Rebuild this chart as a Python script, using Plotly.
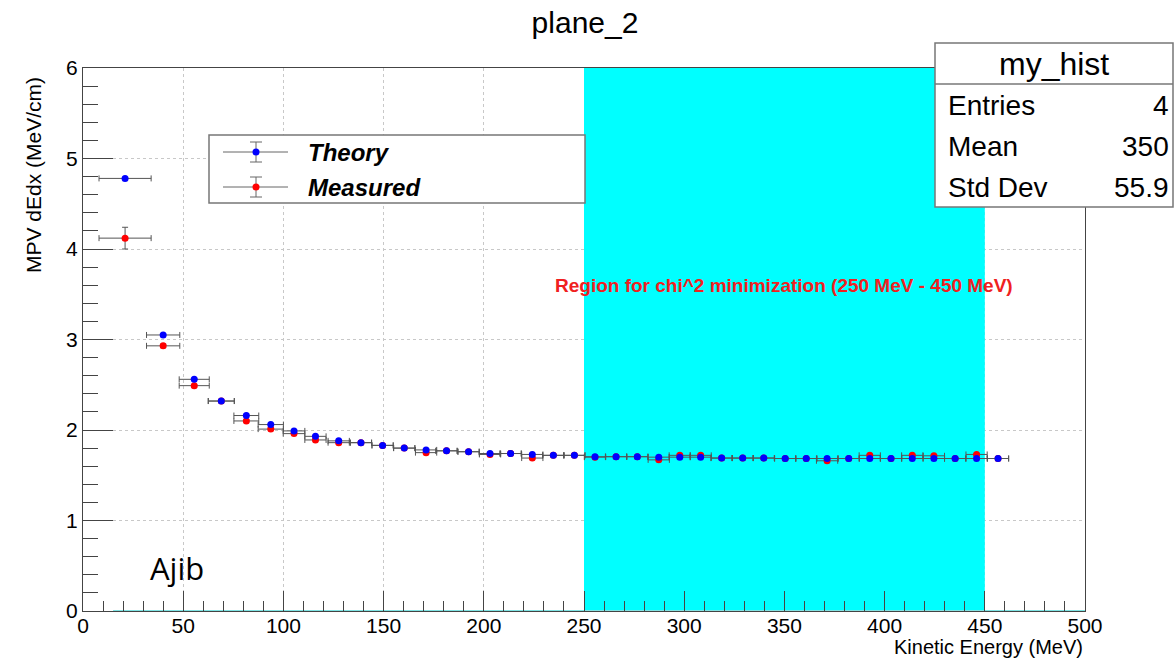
import plotly.graph_objects as go

# ---------------- data ----------------
x_centers = [21, 40, 55.5, 69, 81.5, 93.7, 105.3, 116, 127.6, 138.7, 149.5, 160.3,
             171.2, 181.4, 192.4, 203.1, 213.4, 224.2, 234.7, 245.2, 255.5, 266,
             276.6, 287.3, 297.8, 308.2, 318.7, 329.2, 339.7, 350.4, 360.9, 371.3,
             382.1, 392.6, 403.2, 413.8, 424.6, 435.2, 445.9, 456.6]
x_halfwidth = [13, 8.3, 7.5, 6.5, 6.2, 6.3, 5.4, 5.3, 5.3, 5.3, 5.3, 5.3,
               5.3, 5.3, 5.3, 5.3, 5.3, 5.3, 5.3, 5.3, 5.3, 5.3,
               5.3, 5.3, 5.3, 5.3, 5.3, 5.3, 5.3, 5.3, 5.3, 5.3,
               5.3, 5.3, 5.3, 5.3, 5.3, 5.3, 5.3, 5.3]
theory = [4.78, 3.05, 2.56, 2.32, 2.16, 2.06, 1.99, 1.93, 1.88, 1.86, 1.83, 1.80,
          1.78, 1.77, 1.76, 1.74, 1.74, 1.73, 1.72, 1.72, 1.705, 1.705,
          1.705, 1.70, 1.70, 1.70, 1.69, 1.69, 1.69, 1.685, 1.685, 1.685,
          1.685, 1.685, 1.685, 1.685, 1.685, 1.685, 1.685, 1.685]
theory_err = [0.0] * 40
measured = [4.12, 2.93, 2.49, 2.32, 2.10, 2.01, 1.96, 1.89, 1.86, 1.86, 1.83, 1.80,
            1.75, 1.77, 1.76, 1.73, 1.74, 1.69, 1.72, 1.72, 1.70, 1.705,
            1.705, 1.67, 1.72, 1.72, 1.69, 1.69, 1.69, 1.685, 1.685, 1.66,
            1.685, 1.72, 1.685, 1.72, 1.715, 1.685, 1.73, 1.685]
measured_err = [0.12, 0.02, 0.015] + [0.01] * 37

series_names = ["Theory", "Measured"]
series_colors = ["#0000ff", "#ff0000"]

x_ticks = [0, 50, 100, 150, 200, 250, 300, 350, 400, 450, 500]
y_ticks = [0, 1, 2, 3, 4, 5, 6]

chi2_lo, chi2_hi = 250, 450

stats_title = "my_hist"
stats_labels = ["Entries", "Mean", "Std Dev"]
stats_values = ["4", "350", "55.9"]

# ---------------- layout helpers ----------------
W, H = 1175, 660
PL, PT, PW, PH = 83, 68, 1002, 543
FONT = "Liberation Sans, Arial, Helvetica, sans-serif"
ERRC = "#555555"


def px(x):
    return (x - PL) / PW


def py(y):
    return (PT + PH - y) / PH


fig = go.Figure()

for name, yv, ye, col in [("Measured", measured, measured_err, series_colors[1]),
                          ("Theory", theory, theory_err, series_colors[0])]:
    fig.add_trace(go.Scatter(
        x=x_centers, y=yv, mode="markers", name=name,
        marker=dict(color=col, size=7, symbol="circle", line=dict(width=0)),
        error_x=dict(type="data", array=x_halfwidth, color=ERRC, thickness=1, width=3),
        error_y=dict(type="data", array=ye, color=ERRC, thickness=1, width=3),
        showlegend=False,
    ))

shapes = []
# chi2 region
shapes.append(dict(type="rect", xref="x", yref="y", x0=chi2_lo, x1=chi2_hi, y0=0, y1=6,
                   fillcolor="#00ffff", line=dict(width=0), layer="between"))
# cyan baseline
shapes.append(dict(type="line", xref="x", yref="y", x0=15, x1=500, y0=0, y1=0,
                   line=dict(color="#7fe3e3", width=2), layer="between"))

# legend box
shapes.append(dict(type="rect", xref="paper", yref="paper", x0=px(209), x1=px(585),
                   y0=py(203), y1=py(135), fillcolor="white",
                   line=dict(color="#777777", width=1.5), layer="above"))
annotations = []
for name, col, yc in [(series_names[0], series_colors[0], 152),
                      (series_names[1], series_colors[1], 187)]:
    shapes.append(dict(type="line", xref="paper", yref="paper", x0=px(223), x1=px(288),
                       y0=py(yc), y1=py(yc), line=dict(color="#666666", width=1), layer="above"))
    shapes.append(dict(type="line", xref="paper", yref="paper", x0=px(256), x1=px(256),
                       y0=py(yc - 10), y1=py(yc + 10), line=dict(color="#666666", width=1), layer="above"))
    for dy in (-10, 10):
        shapes.append(dict(type="line", xref="paper", yref="paper", x0=px(250), x1=px(262),
                           y0=py(yc + dy), y1=py(yc + dy), line=dict(color="#666666", width=1),
                           layer="above"))
    shapes.append(dict(type="circle", xref="paper", yref="paper", x0=px(252.5), x1=px(259.5),
                       y0=py(yc + 3.5), y1=py(yc - 3.5), fillcolor=col, line=dict(width=0),
                       layer="above"))
    annotations.append(dict(xref="paper", yref="paper", x=px(306), y=py(yc), xanchor="left",
                            yanchor="middle", showarrow=False,
                            text="<b><i>%s</i></b>" % name,
                            font=dict(family=FONT, size=24, color="black")))

# stats box
shapes.append(dict(type="rect", xref="paper", yref="paper", x0=px(935), x1=px(1173),
                   y0=py(207), y1=py(43), fillcolor="white",
                   line=dict(color="#777777", width=1.5), layer="above"))
shapes.append(dict(type="line", xref="paper", yref="paper", x0=px(935), x1=px(1173),
                   y0=py(84), y1=py(84), line=dict(color="#777777", width=1.5), layer="above"))
annotations.append(dict(xref="paper", yref="paper", x=px(1054), y=py(64), xanchor="center",
                        yanchor="middle", showarrow=False, text=stats_title,
                        font=dict(family=FONT, size=32, color="black")))
for lab, val, yc in zip(stats_labels, stats_values, [105, 146, 187]):
    annotations.append(dict(xref="paper", yref="paper", x=px(946), y=py(yc), xanchor="left",
                            yanchor="middle", showarrow=False, text=lab,
                            font=dict(family=FONT, size=28, color="black")))
    annotations.append(dict(xref="paper", yref="paper", x=px(1171), y=py(yc), xanchor="right",
                            yanchor="middle", showarrow=False, text=val,
                            font=dict(family=FONT, size=28, color="black")))

# region label
annotations.append(dict(xref="x", yref="y", x=(chi2_lo + chi2_hi) / 2, y=3.6,
                        xanchor="center", yanchor="middle", showarrow=False,
                        text="<b>Region for chi^2 minimization (250 MeV - 450 MeV)</b>",
                        font=dict(family=FONT, size=19, color="#f02020")))
# Ajib
annotations.append(dict(xref="paper", yref="paper", x=px(177), y=py(568), xanchor="center",
                        yanchor="middle", showarrow=False, text="Ajib",
                        font=dict(family="Open Sans, DejaVu Sans, sans-serif", size=31,
                                  color="black")))
# axis titles
annotations.append(dict(xref="paper", yref="paper", x=px(33), y=py(175), xanchor="center",
                        yanchor="middle", showarrow=False, text="MPV dEdx (MeV/cm)",
                        textangle=-90, font=dict(family=FONT, size=21, color="black")))
annotations.append(dict(xref="paper", yref="paper", x=1.0, y=py(647), xanchor="right",
                        yanchor="middle", showarrow=False, text="Kinetic Energy (MeV)",
                        font=dict(family=FONT, size=20, color="black")))

axis_common = dict(
    showline=True, linecolor="#444444", linewidth=1, mirror=True,
    ticks="inside", tickcolor="#444444", tickwidth=1,
    showgrid=True, gridcolor="#c8c8c8", gridwidth=1, griddash="3px,3px",
    zeroline=False, tickfont=dict(family=FONT, size=21, color="black"),
)

fig.update_layout(
    width=W, height=H,
    margin=dict(l=PL, r=W - PL - PW, t=PT, b=H - PT - PH),
    paper_bgcolor="white", plot_bgcolor="white",
    title=dict(text="plane_2", x=585 / W, xanchor="center", y=1 - 22 / H, yanchor="middle",
               font=dict(family=FONT, size=30, color="black")),
    xaxis=dict(range=[0, 500], tickvals=x_ticks, ticklen=20, ticklabelstandoff=-4,
               minor=dict(dtick=10, ticklen=10, ticks="inside", tickcolor="#444444",
                          showgrid=False),
               **axis_common),
    yaxis=dict(range=[0, 6], tickvals=y_ticks, ticklen=30,
               minor=dict(dtick=0.2, ticklen=15, ticks="inside", tickcolor="#444444",
                          showgrid=False),
               **axis_common),
    shapes=shapes, annotations=annotations, showlegend=False,
)

fig.write_html("out.html")
